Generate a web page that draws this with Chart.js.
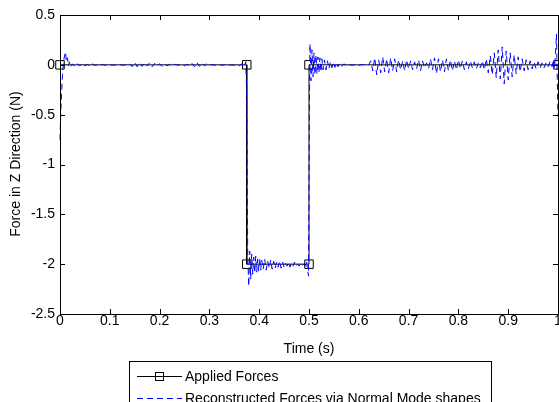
<!DOCTYPE html>
<html>
<head>
<meta charset="utf-8">
<script src="https://cdn.jsdelivr.net/npm/chart.js@4/dist/chart.umd.min.js"></script>
<style>
html,body{margin:0;padding:0;background:#fff;}
canvas{display:block;}
</style>
</head>
<body>
<canvas id="c" width="559" height="402"></canvas>
<script>
// ---- data ----
const xTickLabels = ['0','0.1','0.2','0.3','0.4','0.5','0.6','0.7','0.8','0.9','1'];
const yTickLabels = ['-2.5','-2','-1.5','-1','-0.5','0','0.5'];
const seriesNames = ['Applied Forces', 'Reconstructed Forces via Normal Mode shapes'];

const appliedTime  = [0, 0.375, 0.375, 0.5, 0.5, 1];
const appliedForce = [0, 0, -2, -2, 0, 0];

const reconTime = [
0.000,0.001,0.003,0.005,0.007,0.009,0.011,0.013,0.015,0.017,0.019,0.021,
0.025,0.030,0.035,0.040,0.045,0.050,0.055,0.060,0.065,0.070,0.075,0.080,0.085,0.090,0.095,
0.100,0.105,0.110,0.115,0.120,0.125,0.130,0.135,0.140,0.145,0.150,0.155,0.160,0.165,0.170,
0.175,0.180,0.185,0.190,0.195,0.200,0.205,0.210,0.215,0.220,0.225,0.230,0.235,0.240,0.245,
0.250,0.255,0.260,0.265,0.270,0.275,0.280,0.285,0.290,0.295,0.300,0.305,0.310,0.315,0.320,
0.325,0.330,0.335,0.340,0.345,0.350,0.355,0.360,0.365,0.370,
0.373,0.375,0.376,0.377,0.379,0.381,0.383,0.385,0.387,0.389,0.391,0.393,0.395,0.397,0.399,
0.401,0.403,0.405,0.408,0.411,0.414,0.417,0.420,0.423,0.426,0.429,0.432,0.435,0.438,0.441,
0.444,0.447,0.450,0.453,0.456,0.459,0.462,0.465,0.468,0.471,0.474,0.477,0.480,0.483,0.486,
0.489,0.492,0.495,0.497,0.499,0.500,0.501,0.502,0.504,0.506,0.508,0.510,0.512,0.514,0.516,
0.518,0.520,0.522,0.524,0.526,0.528,0.531,0.534,0.537,0.540,0.543,0.546,0.549,0.552,0.555,
0.558,0.562,0.566,0.570,0.575,0.580,0.585,0.590,0.595,0.600,0.605,0.610,0.615,0.620,
0.624,0.628,0.632,0.636,0.640,0.644,0.648,0.652,0.656,0.660,0.664,0.668,0.672,0.676,0.680,
0.684,0.688,0.692,0.696,0.700,0.704,0.708,0.712,0.716,0.720,0.724,0.728,0.732,0.736,0.740,
0.744,0.748,0.752,0.756,0.760,0.764,0.768,0.772,0.776,0.780,0.784,0.788,0.792,0.796,0.800,
0.804,0.808,0.812,0.816,0.820,0.824,0.828,0.832,0.836,0.840,0.844,0.848,0.852,0.856,0.860,
0.864,0.868,0.872,0.876,0.880,0.884,0.888,0.892,0.896,0.900,0.904,0.908,0.912,0.916,0.920,
0.924,0.928,0.932,0.936,0.940,0.944,0.948,0.952,0.956,0.960,0.964,0.968,0.972,0.976,0.980,
0.984,0.988,0.991,0.993,0.995,0.997,0.998,1.000
];
const reconForce = [
-0.75,-0.55,-0.30,-0.10,0.02,0.09,0.13,0.03,0.07,-0.01,0.03,-0.02,
0.01,-0.02,0.01,-0.01,0.015,-0.01,0.005,-0.015,0.01,-0.005,0.0,-0.01,0.005,-0.005,0.0,
0.005,-0.005,0.0,0.0,0.005,-0.005,0.0,0.0,0.01,-0.02,0.025,-0.02,0.02,-0.015,0.025,
-0.01,0.02,-0.02,0.015,-0.01,0.01,-0.015,0.01,-0.01,0.005,-0.01,0.005,0.0,-0.005,0.0,
-0.01,0.005,-0.01,0.015,-0.02,0.025,-0.015,0.02,-0.01,0.01,-0.01,0.005,-0.005,0.0,0.005,
-0.005,0.0,0.005,-0.005,0.0,-0.005,0.005,-0.01,0.01,-0.02,
0.03,-0.3,-1.2,-1.9,-2.22,-1.87,-2.15,-1.90,-2.10,-1.93,-2.09,-1.92,-2.08,-1.95,-2.07,
-1.94,-2.06,-1.96,-2.05,-1.95,-2.06,-1.97,-2.04,-1.96,-2.05,-1.97,-2.04,-1.98,-2.03,-1.97,
-2.04,-1.98,-2.03,-1.99,-2.02,-1.98,-2.03,-1.99,-2.02,-1.98,-2.02,-2.00,-2.02,-1.99,-2.01,
-2.00,-2.02,-1.97,-2.05,-2.12,-1.2,-0.3,0.21,-0.16,0.15,-0.12,0.12,-0.10,0.10,-0.09,
0.08,-0.08,0.07,-0.07,0.06,-0.05,0.05,-0.05,0.04,-0.04,0.03,-0.03,0.025,-0.025,0.02,
-0.02,0.015,-0.015,0.01,-0.01,0.005,-0.005,0.0,0.005,-0.005,0.0,0.005,-0.005,0.0,
0.04,-0.06,0.07,-0.10,0.05,-0.08,0.08,-0.07,0.06,-0.08,0.07,-0.06,0.06,-0.07,0.05,
-0.05,0.04,-0.06,0.05,-0.04,0.04,-0.05,0.03,-0.04,0.05,-0.06,0.04,-0.03,0.02,-0.04,
0.06,-0.05,0.07,-0.09,0.06,-0.07,0.05,-0.07,0.06,-0.06,0.05,-0.06,0.04,-0.05,0.05,
-0.04,0.04,-0.05,0.03,-0.04,0.04,-0.03,0.03,-0.04,0.02,-0.03,0.04,-0.05,0.06,-0.08,
0.09,-0.10,0.12,-0.13,0.15,-0.14,0.18,-0.19,0.14,-0.15,0.12,-0.12,0.10,-0.09,0.08,
-0.07,0.06,-0.06,0.05,-0.05,0.04,-0.04,0.03,-0.04,0.03,-0.03,0.02,-0.03,0.02,-0.02,
0.03,-0.02,0.05,-0.03,0.12,0.31,0.0,-0.52
];

// ---- layout/style constants ----
const FAMILY = '"Liberation Sans", Arial, sans-serif';
const FONT = '14px ' + FAMILY;
const PLOT = {left:60, top:15, right:558, bottom:314};

const toPts = (xs, ys) => xs.map((x, i) => ({x: x, y: ys[i]}));

const boxPlugin = {
  id: 'matlabBox',
  afterDatasetsDraw(chart) {
    const ctx = chart.ctx, a = chart.chartArea;
    const xs = chart.scales.x, ys = chart.scales.y;
    ctx.save();
    ctx.strokeStyle = '#000';
    ctx.lineWidth = 1;
    ctx.beginPath();
    ctx.rect(Math.round(a.left)+0.5, Math.round(a.top)+0.5, Math.round(a.right-a.left), Math.round(a.bottom-a.top));
    ctx.stroke();
    const tl = 5;
    ctx.beginPath();
    xs.ticks.forEach(t => {
      const px = Math.round(xs.getPixelForValue(t.value)) + 0.5;
      ctx.moveTo(px, a.bottom); ctx.lineTo(px, a.bottom - tl);
      ctx.moveTo(px, a.top); ctx.lineTo(px, a.top + tl);
    });
    ys.ticks.forEach(t => {
      const py = Math.round(ys.getPixelForValue(t.value)) + 0.5;
      ctx.moveTo(a.left, py); ctx.lineTo(a.left + tl, py);
      ctx.moveTo(a.right, py); ctx.lineTo(a.right - tl, py);
    });
    ctx.stroke();
    ctx.restore();
  },
  afterDraw(chart) {
    const ctx = chart.ctx, a = chart.chartArea;
    ctx.save();
    ctx.fillStyle = '#000';
    ctx.font = FONT;
    ctx.textAlign = 'center';
    ctx.textBaseline = 'middle';
    ctx.fillText('Time (s)', (a.left + a.right) / 2, 349);
    ctx.save();
    ctx.translate(16, 164);
    ctx.rotate(-Math.PI / 2);
    ctx.fillText('Force in Z Direction (N)', 0, 0);
    ctx.restore();
    // legend box
    ctx.fillStyle = '#fff';
    ctx.fillRect(129.5, 361.5, 362, 60);
    ctx.strokeStyle = '#000';
    ctx.lineWidth = 1;
    ctx.strokeRect(129.5, 361.5, 362, 60);
    ctx.beginPath();
    ctx.moveTo(137, 376.5); ctx.lineTo(182, 376.5);
    ctx.stroke();
    ctx.strokeRect(155.5, 372.5, 8, 8);
    ctx.strokeStyle = '#0000ff';
    ctx.setLineDash([6, 4]);
    ctx.beginPath();
    ctx.moveTo(137, 398.5); ctx.lineTo(182, 398.5);
    ctx.stroke();
    ctx.setLineDash([]);
    ctx.fillStyle = '#000';
    ctx.textAlign = 'left';
    ctx.fillText(seriesNames[0], 185, 377);
    ctx.fillText(seriesNames[1], 185, 399);
    ctx.restore();
  }
};

new Chart(document.getElementById('c'), {
  type: 'line',
  data: {
    datasets: [
      {
        label: seriesNames[1],
        data: toPts(reconTime, reconForce),
        borderColor: '#0000ff',
        borderWidth: 1,
        borderDash: [6, 4],
        pointRadius: 0,
        pointHoverRadius: 0,
        tension: 0,
        fill: false,
        clip: false
      },
      {
        label: seriesNames[0],
        data: toPts(appliedTime, appliedForce),
        borderColor: '#000',
        borderWidth: 1,
        pointStyle: 'rect',
        pointRadius: 6,
        pointHoverRadius: 6,
        pointBorderColor: '#000',
        pointBackgroundColor: 'rgba(0,0,0,0)',
        pointBorderWidth: 1,
        tension: 0,
        fill: false,
        clip: false
      }
    ]
  },
  options: {
    responsive: false,
    animation: false,
    events: [],
    layout: {autoPadding: false, padding: {left: 0, top: PLOT.top, right: 559 - PLOT.right, bottom: 0}},
    plugins: {legend: {display: false}, tooltip: {enabled: false}, title: {display: false}},
    scales: {
      x: {
        type: 'linear', min: 0, max: 1,
        grid: {display: false, drawTicks: false},
        border: {display: false},
        ticks: {
          stepSize: 0.1, padding: -1, color: '#000',
          font: {family: FAMILY, size: 14},
          maxRotation: 0, autoSkip: false,
          callback: (v, i) => xTickLabels[i]
        },
        afterFit: s => { s.height = 402 - PLOT.bottom; s.paddingLeft = 0; s.paddingRight = 0; }
      },
      y: {
        type: 'linear', min: -2.5, max: 0.5,
        grid: {display: false, drawTicks: false},
        border: {display: false},
        ticks: {
          stepSize: 0.5, padding: 5, color: '#000',
          font: {family: FAMILY, size: 14},
          autoSkip: false,
          callback: (v, i) => yTickLabels[i]
        },
        afterFit: s => { s.width = PLOT.left; s.paddingTop = 0; s.paddingBottom = 0; }
      }
    }
  },
  plugins: [boxPlugin]
});
</script>
</body>
</html>
